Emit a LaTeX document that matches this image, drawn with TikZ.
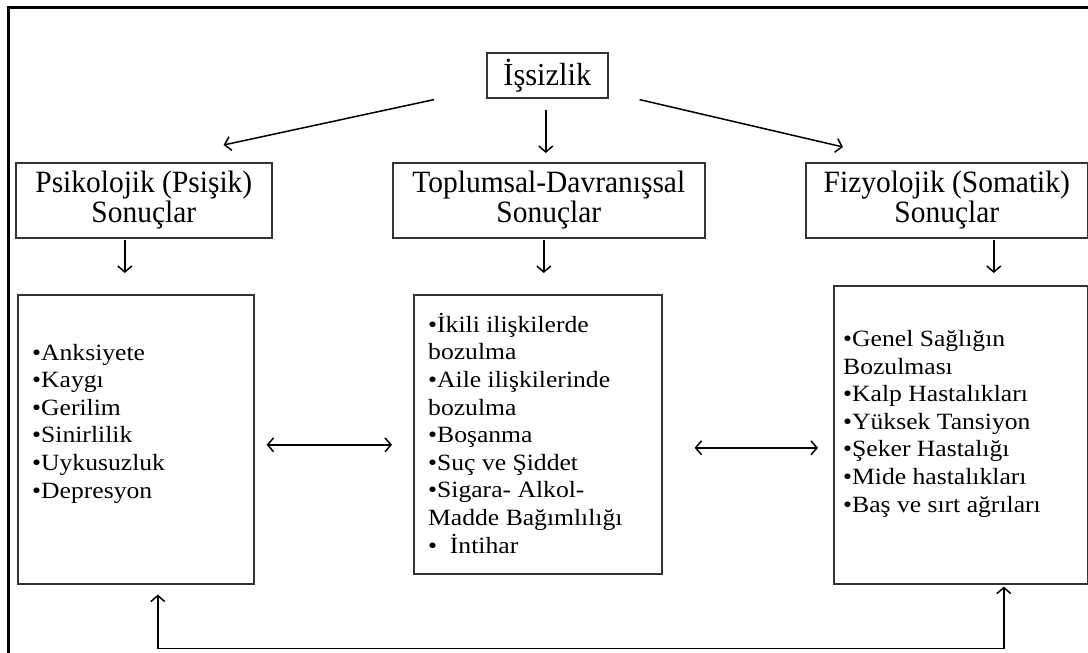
\documentclass[tikz,border=0pt]{standalone}
\usepackage{fontspec}
\setmainfont{Liberation Serif}
\newfontfamily\headf[FakeStretch=0.95]{Liberation Serif}
\newfontfamily\listf[FakeStretch=1.1]{Liberation Serif}
\usetikzlibrary{arrows.meta,calc}
\begin{document}
\begin{tikzpicture}[x=1pt,y=-1pt,
 box/.style={draw=black!80,line width=1.6pt,inner sep=0pt,anchor=north west},
 hbox/.style={box,align=center,font=\headf\fontsize{31}{30}\selectfont},
 lst/.style={anchor=base west,align=left,inner sep=0pt,font=\listf\fontsize{23.3}{27.6}\selectfont},
 arr/.style={line width=1.5pt,-{Straight Barb[length=6pt,width=14pt]}},
 darr/.style={line width=1.5pt,{Straight Barb[length=6pt,width=14pt]}-{Straight Barb[length=6pt,width=14pt]}}]
\useasboundingbox (0,0) rectangle (1088,653);
\draw[line width=3pt] (8,655) -- (8,7) -- (1090,7);

\node[box,minimum width=121pt,minimum height=45pt,font=\headf\fontsize{32}{32}\selectfont] (issiz) at (486,52) {İşsizlik};

\node[hbox,minimum width=256pt,minimum height=75pt] (psi) at (15,162) {Psikolojik (Psişik)\\Sonuçlar};
\node[hbox,minimum width=312pt,minimum height=75pt] (top) at (392,162) {Toplumsal-Davranışsal\\Sonuçlar};
\node[hbox,minimum width=282pt,minimum height=75pt] (fiz) at (805,162) {Fizyolojik (Somatik)\\Sonuçlar};

\node[box,minimum width=236pt,minimum height=289pt] (lb) at (17,294) {};
\node[box,minimum width=248pt,minimum height=279pt] (cb) at (413,294) {};
\node[box,minimum width=254pt,minimum height=298pt] (rb) at (833,285) {};

\node[lst] (lt) at (32,498) {•Anksiyete\\•Kaygı\\•Gerilim\\•Sinirlilik\\•Uykusuzluk\\•Depresyon};
\node[lst] (ct) at (428,553) {•İkili ilişkilerde\\bozulma\\•Aile ilişkilerinde\\bozulma\\•Boşanma\\•Suç ve Şiddet\\•Sigara- Alkol-\\Madde Bağımlılığı\\•\ \ İntihar};
\node[lst] (rt) at (843,512) {•Genel Sağlığın\\Bozulması\\•Kalp Hastalıkları\\•Yüksek Tansiyon\\•Şeker Hastalığı\\•Mide hastalıkları\\•Baş ve sırt ağrıları};

\draw[arr] ($(issiz.south west)+(-52,1)$) -- ($(psi.north east)+(-49,-17)$);
\draw[arr] ($(issiz.south)+(-1.5,11)$) -- ($(top.north)+(-3,-9)$);
\draw[arr] ($(issiz.south east)+(31,1)$) -- ($(fiz.north west)+(38,-15)$);

\draw[arr] ($(psi.south)+(-19,1)$) -- ($(lb.north)+(-11,-21)$);
\draw[arr] ($(top.south)+(-5,1)$) -- ($(cb.north)+(6,-21)$);
\draw[arr] ($(fiz.south)+(47,1)$) -- ($(rb.north)+(33,-12)$);

\draw[darr] ($(lb.east)+(12,5.5)$) -- ($(cb.west)+(-21,10.5)$);
\draw[darr] ($(cb.east)+(32,13.5)$) -- ($(rb.west)+(-15,13)$);

\draw[darr] ($(lb.south)+(22,10)$) -- ($(lb.south)+(22,64)$) -| ($(rb.south)+(43,2)$);
\end{tikzpicture}
\end{document}
